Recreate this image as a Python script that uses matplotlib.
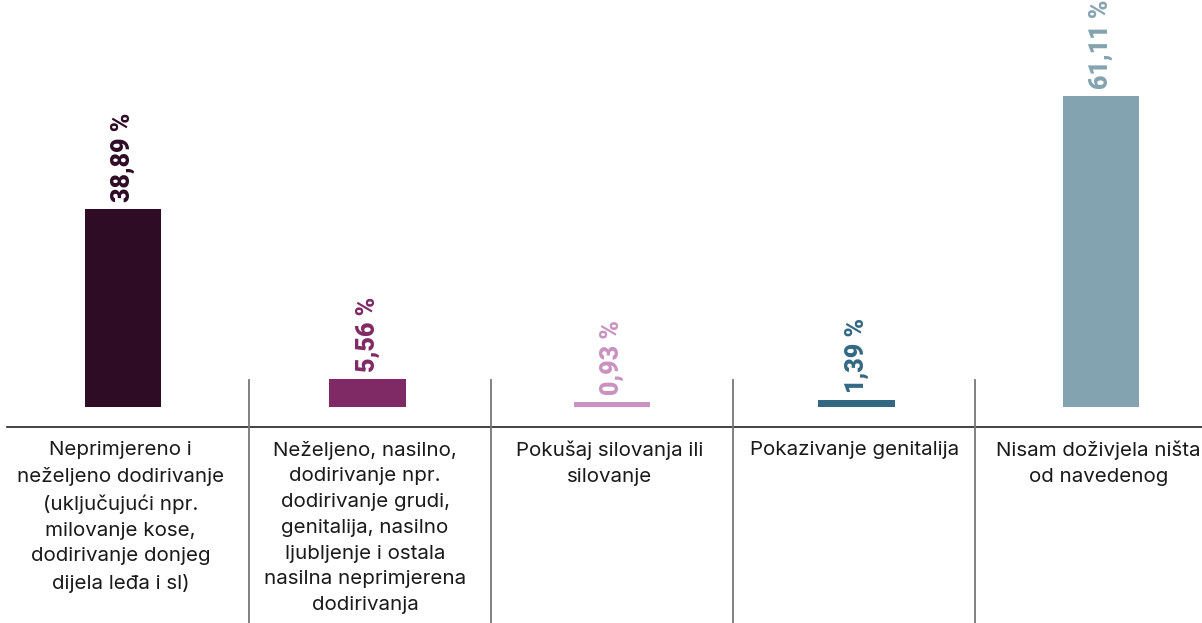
import matplotlib
matplotlib.use("Agg")
import matplotlib.pyplot as plt

categories = [
    "Neprimjereno i\nneželjeno dodirivanje\n(uključujući npr.\nmilovanje kose,\ndodirivanje donjeg\ndijela leđa i sl)",
    "Neželjeno, nasilno,\ndodirivanje npr.\ndodirivanje grudi,\ngenitalija, nasilno\nljubljenje i ostala\nnasilna neprimjerena\ndodirivanja",
    "Pokušaj silovanja ili\nsilovanje",
    "Pokazivanje genitalija",
    "Nisam doživjela ništa\nod navedenog",
]
values = [38.89, 5.56, 0.93, 1.39, 61.11]
value_labels = ["38,89 %", "5,56 %", "0,93 %", "1,39 %", "61,11 %"]
colors = ["#2e0c25", "#7f2a65", "#c992c0", "#336883", "#84a3b0"]

fig = plt.figure(figsize=(12.02, 6.23), dpi=100)
ax = fig.add_axes([0, 0, 1, 1])
ax.set_xlim(-0.503, 4.413)
ax.set_ylim(-42.4, 80.0)
ax.axis("off")

x = list(range(len(values)))
ax.bar(x, values, width=0.311, color=colors, zorder=2)

for xi, v, lab, c in zip(x, values, value_labels, colors):
    ax.annotate(lab, (xi, v), xytext=(0, 7), textcoords="offset pixels",
                rotation=90, ha="center", va="bottom", color=c,
                fontsize=18, fontweight="black", family="Roboto")
    ax.text(xi - 0.01, -6.6, categories[xi], ha="center", va="top",
            fontsize=14.8, family="Inter", color="#1a1a1a", linespacing=1.55)

# baseline rule and column separators
ax.axhline(-3.85, xmin=0.006, xmax=1, color="#222222", lw=1.2)
for i in range(len(values) - 1):
    ax.plot([i + 0.515 - 0.01 * i, i + 0.515 - 0.01 * i], [5.3, -42.4],
            color="#777777", lw=1.3)

fig.savefig("out.png", dpi=100)
